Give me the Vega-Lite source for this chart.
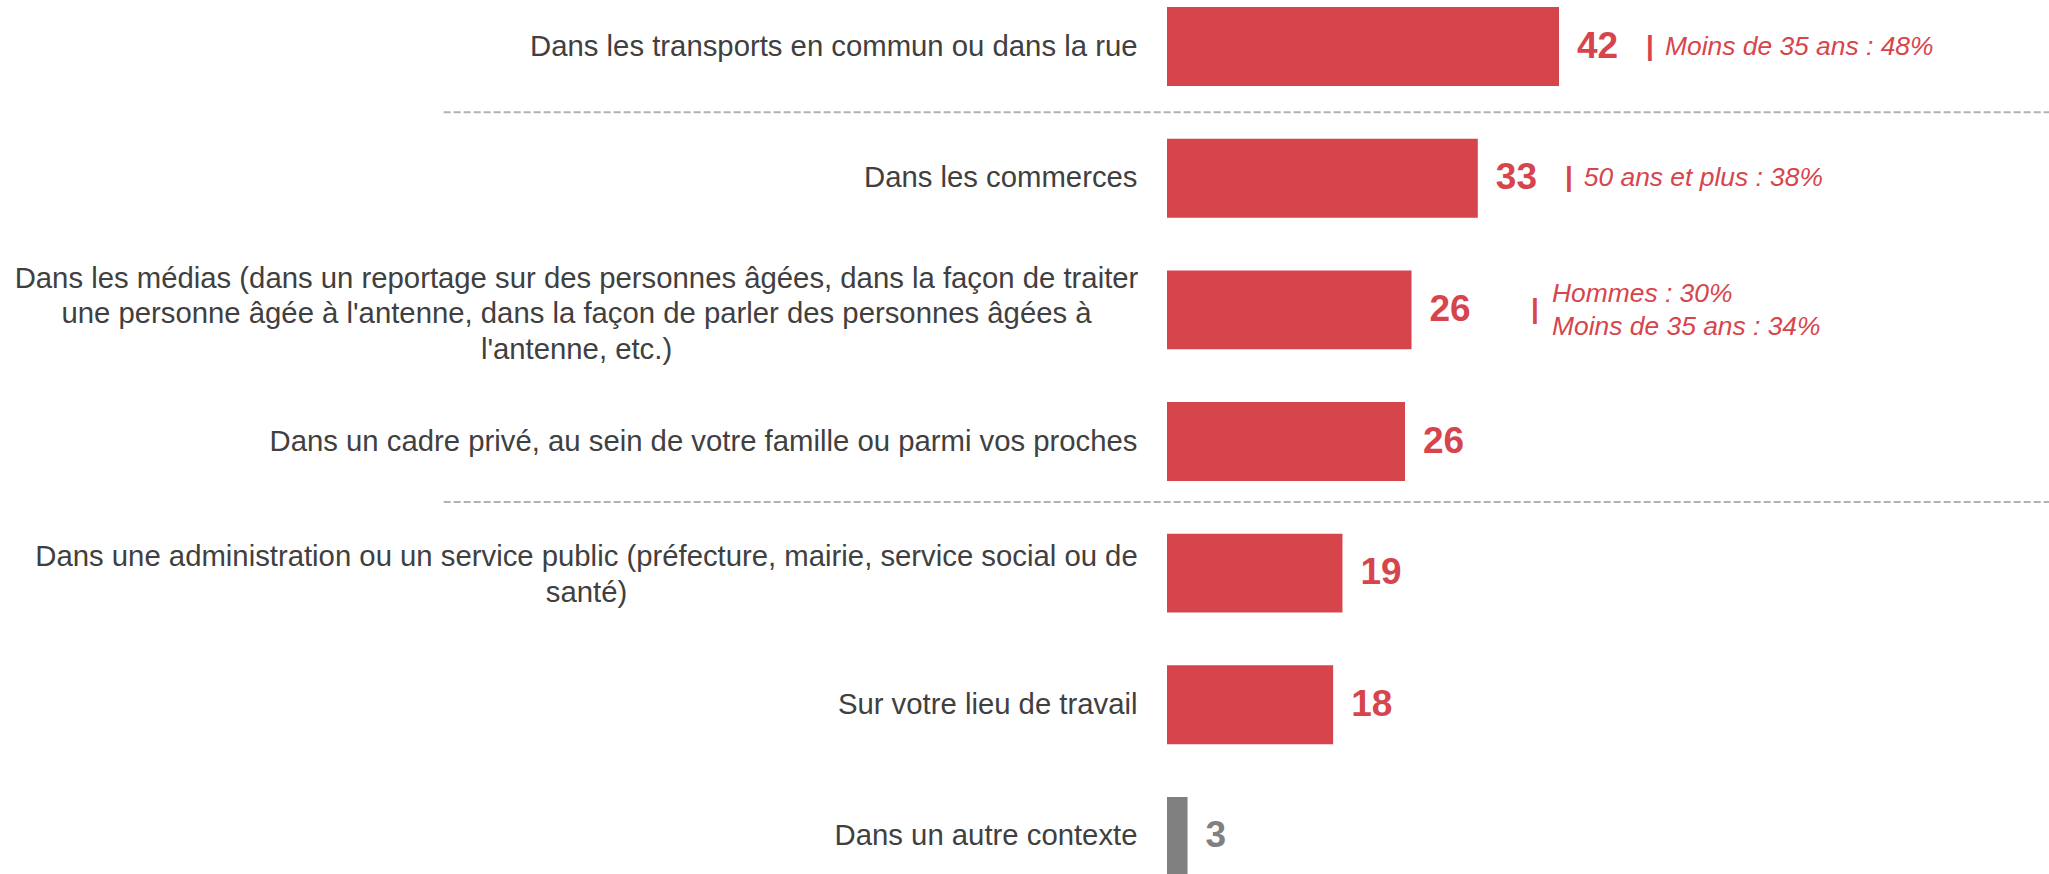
{
  "$schema": "https://vega.github.io/schema/vega-lite/v6.json",
  "width": 882,
  "height": 883,
  "autosize": "none",
  "padding": {"left": 1167, "top": 0, "right": 0, "bottom": 0},
  "background": "white",
  "config": {"view": {"stroke": null}, "font": "Liberation Sans"},
  "datasets": {
    "rows": [
      {"category": "Dans les transports en commun ou dans la rue", "value": 42, "label": "42", "note": "Moins de 35 ans : 48%"},
      {"category": "Dans les commerces", "value": 33.3, "label": "33", "note": "50 ans et plus : 38%"},
      {"category": "Dans les médias (dans un reportage sur des personnes âgées, dans la façon de traiter\nune personne âgée à l'antenne, dans la façon de parler des personnes âgées à\nl'antenne, etc.)", "value": 26.2, "label": "26", "note": "Hommes : 30%\nMoins de 35 ans : 34%"},
      {"category": "Dans un cadre privé, au sein de votre famille ou parmi vos proches", "value": 25.5, "label": "26", "note": ""},
      {"category": "Dans une administration ou un service public (préfecture, mairie, service social ou de\nsanté)", "value": 18.8, "label": "19", "note": ""},
      {"category": "Sur votre lieu de travail", "value": 17.8, "label": "18", "note": ""},
      {"category": "Dans un autre contexte", "value": 2.2, "label": "3", "note": ""}
    ],
    "separator1": [
      {"category": "Dans les transports en commun ou dans la rue"}
    ],
    "separator2": [
      {"category": "Dans un cadre privé, au sein de votre famille ou parmi vos proches"}
    ]
  },
  "layer": [
    {
      "data": {"name": "rows"},
      "mark": {"type": "bar"},
      "encoding": {
        "y": {
          "field": "category", "type": "nominal", "sort": null,
          "scale": {"paddingInner": 0.4, "paddingOuter": 0.054},
          "axis": {
            "title": null, "domain": false, "ticks": false,
            "labelFontSize": 29.3, "labelColor": "#404040", "labelLimit": 0, "labelLineHeight": 35.5,
            "labelExpr": "split(datum.label, '\\n')",
            "labelAlign": {"condition": {"test": "indexof(datum.label, '\\n') >= 0", "value": "center"}, "value": "right"},
            "labelPadding": {"condition": [
              {"test": "indexof(datum.label, 'médias') >= 0", "value": 591},
              {"test": "indexof(datum.label, 'administration') >= 0", "value": 581}
            ], "value": 30},
            "labelOffset": {"condition": [
              {"test": "indexof(datum.label, 'médias') >= 0", "value": -31},
              {"test": "indexof(datum.label, 'administration') >= 0", "value": -16}
            ], "value": 0}
          }
        },
        "x": {"field": "value", "type": "quantitative", "scale": {"domain": [0, 94.5], "nice": false, "zero": true}, "axis": null},
        "color": {"condition": {"test": "datum.category === 'Dans un autre contexte'", "value": "#808080"}, "value": "#D7454C"}
      }
    },
    {
      "data": {"name": "rows"},
      "mark": {"type": "text", "align": "left", "baseline": "middle", "dx": 18, "fontSize": 37, "fontWeight": "bold"},
      "encoding": {
        "y": {"field": "category", "type": "nominal", "sort": null},
        "x": {"field": "value", "type": "quantitative"},
        "text": {"field": "label", "type": "nominal"},
        "color": {"condition": {"test": "datum.category === 'Dans un autre contexte'", "value": "#808080"}, "value": "#D7454C"}
      }
    },
    {
      "data": {"name": "rows"},
      "transform": [{"filter": "datum.note !== '' && indexof(datum.note, '\\n') < 0"}],
      "mark": {"type": "text", "align": "center", "baseline": "middle", "dx": 91, "fontSize": 28, "fontWeight": "bold", "color": "#D7454C"},
      "encoding": {
        "y": {"field": "category", "type": "nominal", "sort": null},
        "x": {"field": "value", "type": "quantitative"},
        "text": {"value": "|"}
      }
    },
    {
      "data": {"name": "rows"},
      "transform": [{"filter": "datum.note !== '' && indexof(datum.note, '\\n') < 0"}],
      "mark": {"type": "text", "align": "left", "baseline": "middle", "dx": 106, "fontSize": 26.4, "fontStyle": "italic", "color": "#D7454C"},
      "encoding": {
        "y": {"field": "category", "type": "nominal", "sort": null},
        "x": {"field": "value", "type": "quantitative"},
        "text": {"field": "note", "type": "nominal"}
      }
    },
    {
      "data": {"name": "rows"},
      "transform": [{"filter": "indexof(datum.note, '\\n') >= 0"}],
      "mark": {"type": "text", "align": "center", "baseline": "middle", "dx": 123.5, "fontSize": 28, "fontWeight": "bold", "color": "#D7454C"},
      "encoding": {
        "y": {"field": "category", "type": "nominal", "sort": null},
        "x": {"field": "value", "type": "quantitative"},
        "text": {"value": "|"}
      }
    },
    {
      "data": {"name": "rows"},
      "transform": [{"filter": "indexof(datum.note, '\\n') >= 0"}],
      "mark": {"type": "text", "align": "left", "baseline": "middle", "dx": 140.5, "dy": -16, "fontSize": 26.4, "fontStyle": "italic", "color": "#D7454C", "lineBreak": "\n", "lineHeight": 33},
      "encoding": {
        "y": {"field": "category", "type": "nominal", "sort": null},
        "x": {"field": "value", "type": "quantitative"},
        "text": {"field": "note", "type": "nominal"}
      }
    },
    {
      "data": {"name": "separator1"},
      "mark": {"type": "rule", "strokeDash": [7, 3], "strokeWidth": 2, "color": "#b3b3b3"},
      "encoding": {
        "y": {"field": "category", "type": "nominal", "sort": null, "bandPosition": 1.33},
        "x": {"datum": -77.5},
        "x2": {"datum": 94.5}
      }
    },
    {
      "data": {"name": "separator2"},
      "mark": {"type": "rule", "strokeDash": [7, 3], "strokeWidth": 2, "color": "#b3b3b3"},
      "encoding": {
        "y": {"field": "category", "type": "nominal", "sort": null, "bandPosition": 1.266},
        "x": {"datum": -77.5},
        "x2": {"datum": 94.5}
      }
    }
  ]
}
